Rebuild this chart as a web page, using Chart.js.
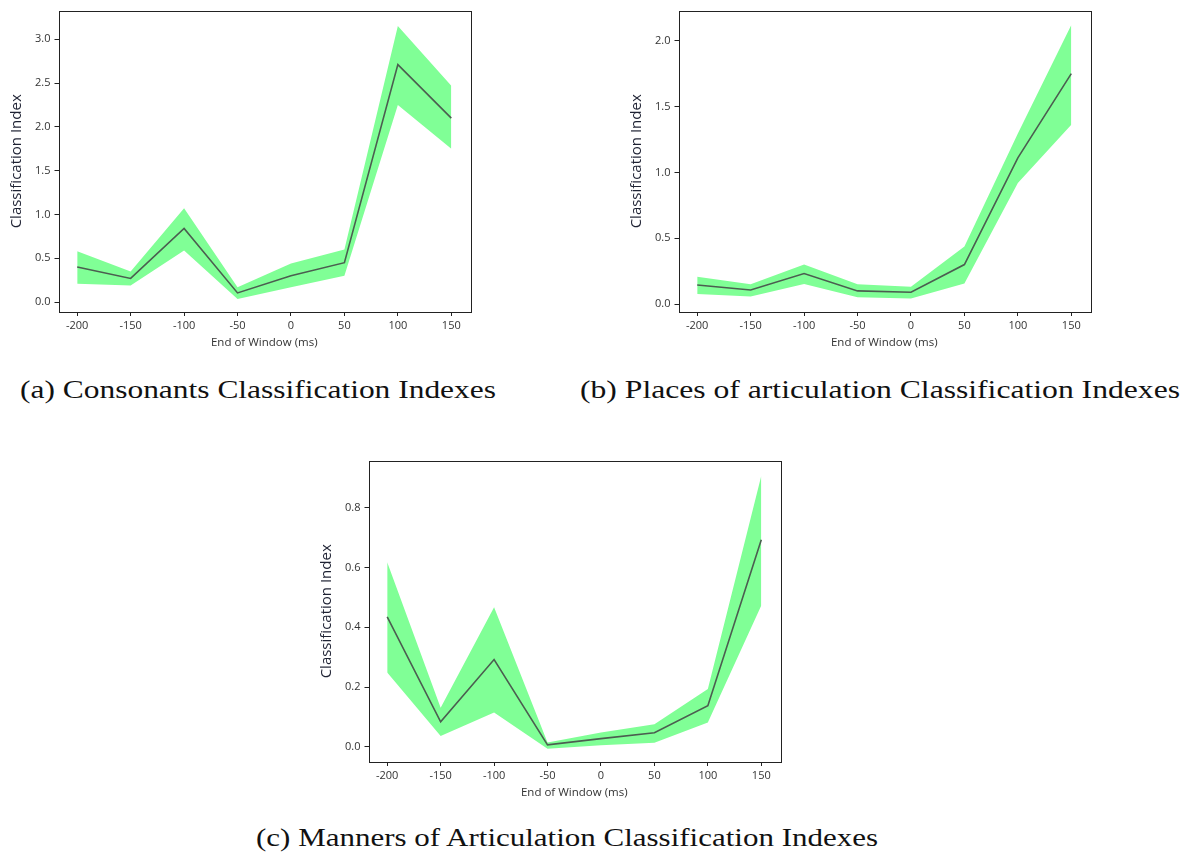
<!DOCTYPE html>
<html>
<head>
<meta charset="utf-8">
<script src="https://cdn.jsdelivr.net/npm/chart.js@4/dist/chart.umd.min.js"></script>
<style>
body { margin: 0; background: #fff; }
#pagina { position: relative; width: 1185px; height: 855px; overflow: hidden; background: #fff; }
.grafico { position: absolute; width: 480px; height: 355px; }
.legenda { position: absolute; font-family: "Liberation Serif", serif; font-size: 25px; line-height: 25px; color: #111; white-space: nowrap; transform-origin: 0 0; }
</style>
</head>
<body>
<div id="pagina">
  <div class="grafico" style="left:0px; top:0px;"><canvas id="chartA"></canvas></div>
  <div class="grafico" style="left:620px; top:0px;"><canvas id="chartB"></canvas></div>
  <div class="grafico" style="left:310px; top:450px;"><canvas id="chartC"></canvas></div>
  <span class="legenda" id="legA" style="left:20px; top:377px;" data-largura="476">(a) Consonants Classification Indexes</span>
  <span class="legenda" id="legB" style="left:580px; top:377px;" data-largura="600">(b) Places of articulation Classification Indexes</span>
  <span class="legenda" id="legC" style="left:256px; top:825px;" data-largura="622">(c) Manners of Articulation Classification Indexes</span>
</div>
<script>
// eixo x (fim da janela, ms)
const janelas = [-200, -150, -100, -50, 0, 50, 100, 150]
const ticksX = [-200, -150, -100, -50, 0, 50, 100, 150]

// (a) consoantes
const mediaA    = [0.40, 0.27, 0.84, 0.105, 0.30, 0.45, 2.71, 2.10]
const superiorA = [0.58, 0.35, 1.07, 0.17, 0.44, 0.60, 3.15, 2.47]
const inferiorA = [0.21, 0.19, 0.59, 0.034, 0.17, 0.30, 2.25, 1.75]
const ticksYA = [0, 0.5, 1, 1.5, 2, 2.5, 3]

// (b) pontos de articulacao
const mediaB    = [0.145, 0.107, 0.232, 0.10, 0.09, 0.30, 1.11, 1.75]
const superiorB = [0.207, 0.15, 0.30, 0.15, 0.132, 0.437, 1.295, 2.118]
const inferiorB = [0.077, 0.057, 0.152, 0.052, 0.042, 0.157, 0.92, 1.362]
const ticksYB = [0, 0.5, 1, 1.5, 2]

// (c) modos de articulacao
const mediaC    = [0.435, 0.084, 0.292, 0.0066, 0.0275, 0.047, 0.138, 0.693]
const superiorC = [0.618, 0.131, 0.467, 0.015, 0.048, 0.076, 0.194, 0.907]
const inferiorC = [0.249, 0.036, 0.115, -0.0066, 0.0055, 0.014, 0.0815, 0.473]
const ticksYC = [0, 0.2, 0.4, 0.6, 0.8]

const corFaixa = '#80ff96'
const corLinha = '#4b5e50'
const corTexto = '#333333'
const fonteEixo = 'Open Sans, DejaVu Sans, sans-serif'

function pontos(valores) {
    return janelas.map((x, i) => ({ x: x, y: valores[i] }))
}

// moldura completa em volta da area do grafico (estilo matplotlib)
const moldura = {
    id: 'moldura',
    afterDraw(chart) {
        const a = chart.chartArea
        const ctx = chart.ctx
        ctx.save()
        ctx.strokeStyle = '#222'
        ctx.lineWidth = 1
        ctx.strokeRect(Math.round(a.left) + 0.5, Math.round(a.top) + 0.5, Math.round(a.right - a.left), Math.round(a.bottom - a.top))
        ctx.restore()
    }
}

function criarGrafico(id, media, superior, inferior, ticksY, yMin, yMax) {
    new Chart(document.getElementById(id), {
        type: 'line',
        data: {
            // o primeiro dataset e desenhado por cima, entao a media vem primeiro
            datasets: [
                {
                    data: pontos(media),
                    fill: false,
                    borderColor: corLinha,
                    borderWidth: 1.6,
                    pointRadius: 0,
                    tension: 0
                },
                {
                    data: pontos(superior),
                    fill: '+1',
                    backgroundColor: corFaixa,
                    borderColor: 'rgba(0,0,0,0)',
                    borderWidth: 0,
                    pointRadius: 0,
                    tension: 0
                },
                {
                    data: pontos(inferior),
                    fill: false,
                    borderColor: 'rgba(0,0,0,0)',
                    borderWidth: 0,
                    pointRadius: 0,
                    tension: 0
                }
            ]
        },
        options: {
            responsive: true,
            maintainAspectRatio: false,
            animation: false,
            layout: {
                padding: { top: 7, right: 10, left: 0, bottom: 0 }
            },
            plugins: {
                legend: { display: false },
                tooltip: { enabled: false }
            },
            scales: {
                x: {
                    type: 'linear',
                    min: -217.5,
                    max: 167.5,
                    afterBuildTicks: (eixo) => { eixo.ticks = ticksX.map(v => ({ value: v })) },
                    afterFit: (eixo) => { eixo.height = 43 },
                    grid: {
                        display: true,
                        drawOnChartArea: false,
                        drawTicks: true,
                        tickLength: 4,
                        tickColor: '#222',
                        color: '#222'
                    },
                    border: { display: false },
                    ticks: {
                        color: corTexto,
                        padding: 3,
                        maxRotation: 0,
                        font: { family: fonteEixo, size: 11 },
                        callback: (v) => String(v)
                    },
                    title: {
                        display: true,
                        text: 'End of Window (ms)',
                        color: corTexto,
                        font: { family: fonteEixo, size: 11.5 },
                        padding: { top: 0, bottom: 5 }
                    }
                },
                y: {
                    type: 'linear',
                    min: yMin,
                    max: yMax,
                    afterBuildTicks: (eixo) => { eixo.ticks = ticksY.map(v => ({ value: v })) },
                    afterFit: (eixo) => { eixo.width = 58.5 },
                    grid: {
                        display: true,
                        drawOnChartArea: false,
                        drawTicks: true,
                        tickLength: 4,
                        tickColor: '#222',
                        color: '#222'
                    },
                    border: { display: false },
                    ticks: {
                        color: corTexto,
                        padding: 4,
                        font: { family: fonteEixo, size: 11 },
                        callback: (v) => v.toFixed(1)
                    },
                    title: {
                        display: true,
                        text: 'Classification Index',
                        color: '#1e2233',
                        font: { family: fonteEixo, size: 15 },
                        padding: { top: 8, bottom: 2 }
                    }
                }
            }
        },
        plugins: [moldura]
    })
}

criarGrafico('chartA', mediaA, superiorA, inferiorA, ticksYA, -0.113, 3.327)
criarGrafico('chartB', mediaB, superiorB, inferiorB, ticksYB, -0.06, 2.228)
criarGrafico('chartC', mediaC, superiorC, inferiorC, ticksYC, -0.0506, 0.9577)

// estica as legendas na largura do original (fonte CM e mais larga)
document.querySelectorAll('.legenda').forEach(el => {
    const alvo = Number(el.dataset.largura)
    const atual = el.getBoundingClientRect().width
    el.style.transform = 'scaleX(' + (alvo / atual) + ')'
})
</script>
</body>
</html>
